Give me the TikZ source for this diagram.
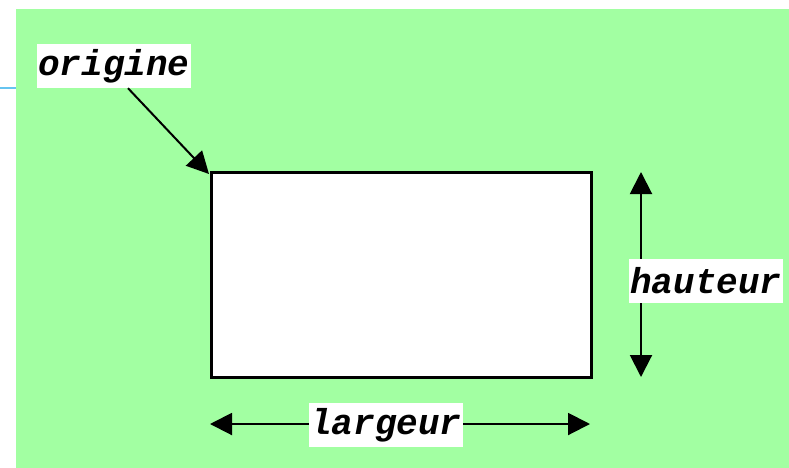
\documentclass[tikz,border=0pt]{standalone}
\usepackage{fontspec}
\setmonofont{Liberation Mono}
\usetikzlibrary{arrows.meta}
\definecolor{bggreen}{HTML}{A2FFA2}
\definecolor{lineblue}{HTML}{66C4F0}

\begin{document}
\begin{tikzpicture}[x=1pt,y=-1pt]
	\tikzstyle{dimlabel}=[fill=white,inner xsep=1pt,inner ysep=0pt,minimum height=44pt,font=\fontsize{36}{36}\selectfont\ttfamily\bfseries\itshape]
	\tikzstyle{tip}=[line width=2pt,-{Triangle[length=22pt,width=22pt]}]
	\tikzstyle{dimline}=[line width=2pt,{Triangle[length=22pt,width=22pt]}-{Triangle[length=22pt,width=22pt]}]

	\useasboundingbox (0,0) rectangle (789,467);
	\fill [bggreen] (16,9) rectangle (790,468);
	\draw [lineblue,line width=2pt] (0,88) -- (16,88);

	\node [draw,line width=2.5pt,fill=white,inner sep=0pt,minimum width=380pt,minimum height=205pt,anchor=north west] (rect) at (210,171) {};

	\node [dimlabel] (origine) at (114,66) {origine};
	\coordinate (w_left) at (210,424);
	\coordinate (w_right) at (590,424);
	\coordinate (h_top) at (641,172);
	\coordinate (h_bot) at (641,377);

	\draw [tip] ([xshift=14pt]origine.south) to ([shift={(-1pt,-3pt)}]rect.north west);
	\draw [dimline] (w_left) to (w_right);
	\draw [dimline] (h_top) to (h_bot);

	\node [dimlabel] (largeur) at (386,425) {largeur};
	\node [dimlabel] (hauteur) at (706,281) {hauteur};
\end{tikzpicture}
\end{document}
